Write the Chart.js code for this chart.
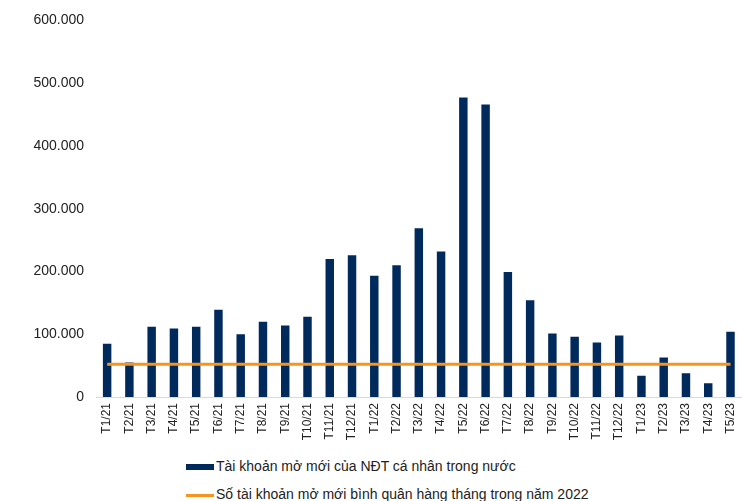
<!DOCTYPE html>
<html lang="vi">
<head>
  <meta charset="UTF-8">
  <title>Tài khoản mở mới</title>
  <script src="https://cdn.jsdelivr.net/npm/chart.js"></script>
  <style>
    body { margin:0; background:#fff; font-family: "Liberation Sans", Arial, sans-serif; }
    #wrap { position:relative; width:751px; height:501px; }
    #box { position:absolute; left:0; top:0; width:751px; height:450px; }
    .lg { position:absolute; left:186px; font-size:14px; color:#222; white-space:nowrap; line-height:16px; }
    .lg i { display:inline-block; width:28px; vertical-align:middle; margin-right:2px; }
  </style>
</head>
<body>
  <div id="wrap">
    <div id="box"><canvas id="c"></canvas></div>
    <div class="lg" id="lg1" style="top:458px;"></div>
    <div class="lg" id="lg2" style="top:486px;"></div>
  </div>

  <script>
    const months = ['T1/21','T2/21','T3/21','T4/21','T5/21','T6/21','T7/21','T8/21','T9/21','T10/21','T11/21','T12/21',
                    'T1/22','T2/22','T3/22','T4/22','T5/22','T6/22','T7/22','T8/22','T9/22','T10/22','T11/22','T12/22',
                    'T1/23','T2/23','T3/23','T4/23','T5/23'];
    const newAccounts = [85000, 55000, 112000, 109000, 112000, 139000, 100000, 120000, 114000, 128000, 220000, 226000,
                         193000, 210000, 269000, 232000, 477000, 466000, 199000, 154000, 101000, 96000, 87000, 98000,
                         34000, 63000, 38000, 22000, 104000];
    const avg2022 = 52000;
    const avgLine = months.map(() => avg2022);
    const yTicks = [0, 100000, 200000, 300000, 400000, 500000, 600000];

    const barLabel = 'Tài khoản mở mới của NĐT cá nhân trong nước';
    const lineLabel = 'Số tài khoản mở mới bình quân hàng tháng trong năm 2022';
    const navy = '#012a5c', orange = '#f7941d';

    function fmt(v) { return v.toString().replace(/\B(?=(\d{3})+(?!\d))/g, '.'); }

    new Chart(document.getElementById('c'), {
      data: {
        labels: months,
        datasets: [
          { type:'line', label: lineLabel, data: avgLine, borderColor: orange, borderWidth: 3,
            pointRadius: 0, fill: false, order: 0 },
          { type:'bar', label: barLabel, data: newAccounts, backgroundColor: navy,
            barPercentage: 0.38, categoryPercentage: 1, order: 1 }
        ]
      },
      options: {
        responsive: true, maintainAspectRatio: false, animation: false,
        layout: { padding: { top: 10, right: 6, left: 0, bottom: 0 } },
        plugins: { legend: { display: false }, tooltip: { enabled: false } },
        scales: {
          x: {
            grid: { display: false, drawTicks: false },
            border: { display: true, color: '#d9d9d9', width: 1 },
            ticks: { minRotation: 90, maxRotation: 90, padding: 6, color: '#222',
                     font: { family: 'Liberation Sans', size: 12 } },
            afterFit: s => { s.height = 53; }
          },
          y: {
            min: 0, max: 600000,
            afterBuildTicks: s => { s.ticks = yTicks.map(v => ({ value: v })); },
            grid: { display: false, drawTicks: false },
            border: { display: false },
            ticks: { padding: 12, color: '#222', font: { family: 'Liberation Sans', size: 14 },
                     callback: v => fmt(v) },
            afterFit: s => { s.width = 96; }
          }
        }
      }
    });

    document.getElementById('lg1').innerHTML = '<i style="height:6px;background:' + navy + '"></i>' + barLabel;
    document.getElementById('lg2').innerHTML = '<i style="height:3px;background:' + orange + '"></i>' + lineLabel;
  </script>
</body>
</html>
